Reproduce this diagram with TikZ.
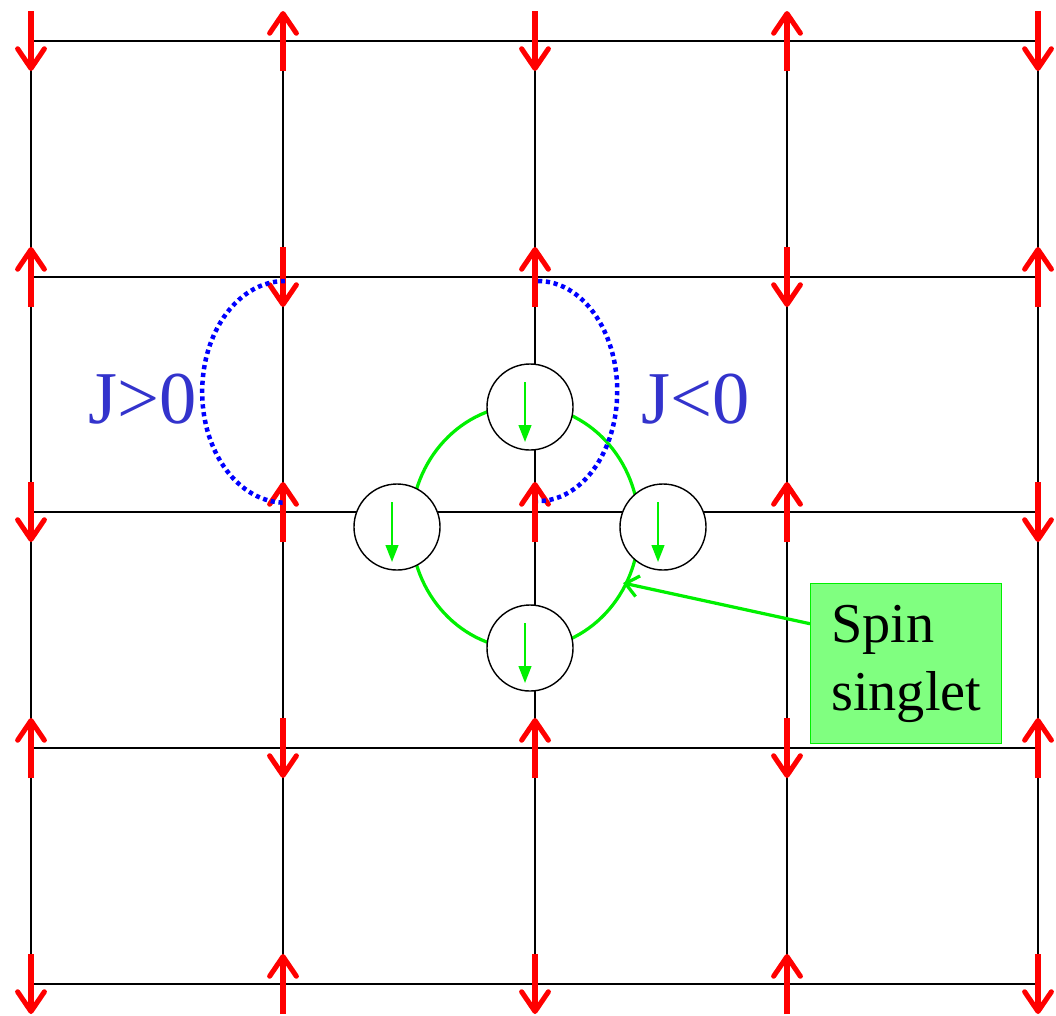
\documentclass[tikz,border=0pt]{standalone}
\usepackage{fontspec}
\setmainfont{Liberation Serif}
\usetikzlibrary{positioning, arrows.meta, calc}

\definecolor{spinred}{RGB}{255,0,0}
\definecolor{singletgreen}{RGB}{0,240,0}
\definecolor{boxfill}{RGB}{128,255,128}
\definecolor{jblue}{RGB}{51,51,204}

\begin{document}
\begin{tikzpicture}[x=0.025cm, y=-0.025cm,
    lattice/.style={line width=1.1pt},
    spin/.style={draw=spinred, line width=3.6pt, -{Straight Barb[round, length=14pt, width=19pt]}},
    site/.style={circle, draw, fill=white, line width=1pt, minimum size=2.15cm, inner sep=0pt},
    sub/.style={singletgreen, line width=1.4pt, -{Triangle[length=12pt, width=9pt]}},
    ring/.style={singletgreen, line width=2.3pt},
    jbond/.style={blue, line width=3.2pt, dash pattern=on 3pt off 2.6pt},
    jlab/.style={jblue, font=\fontsize{53}{64}\selectfont, anchor=base west, inner sep=0pt},
    singletbox/.style={draw=singletgreen, fill=boxfill, line width=1pt, minimum width=4.775cm,
      minimum height=4cm, align=left, font=\fontsize{40}{48}\selectfont, anchor=north west},
    pointer/.style={singletgreen, line width=2.3pt, -{Straight Barb[length=9pt, width=15pt]}}]
  \useasboundingbox (0,0) rectangle (1056,1015);

  % lattice sites n<col><row>
  \foreach \i/\x in {0/31,1/283,2/535,3/787,4/1038}
    \foreach \j/\y in {0/41,1/277,2/512,3/748,4/984}
      {\coordinate (n\i\j) at (\x,\y);}
  \foreach \k in {0,...,4}
    {\draw[lattice] (n\k0) -- (n\k4);
     \draw[lattice] (n0\k) -- (n4\k);}

  % singlet ring and its four sites
  \draw[ring] (525,527) ellipse [x radius=2.85cm, y radius=3.05cm];
  \node[site] (s1) at (530,407) {};
  \node[site] (s2) at (397,527) {};
  \node[site] (s3) at (663,527) {};
  \node[site] (s4) at (530,648) {};
  \foreach \s in {s1,s2,s3,s4}
    {\draw[sub] ($(\s)+(-5,-25)$) -- ($(\s)+(-5,35)$);}

  % Neel spins, the centre one flipped
  \foreach \n in {10,30,01,21,41,12,22,32,03,23,43,14,34}
    {\draw[spin] ($(n\n)+(0,30)$) -- ($(n\n)+(0,-30)$);}
  \foreach \n in {00,20,40,11,31,02,42,13,33,04,24,44}
    {\draw[spin] ($(n\n)+(0,-30)$) -- ($(n\n)+(0,30)$);}

  % exchange bonds
  \coordinate (jl) at (285,281);
  \coordinate (jr) at (538,281);
  \draw[jbond] (jl) arc[start angle=90, end angle=270, x radius=2.07cm, y radius=2.77cm];
  \draw[jbond] (jr) arc[start angle=90, end angle=-90, x radius=1.98cm, y radius=2.75cm];
  \node[jlab] (jpos) at (88,423) {J>0};
  \node[jlab] (jneg) at (641,423) {J<0};

  \node[singletbox] (box) at (810,583) {Spin\\singlet};
  \coordinate (ringpt) at (623,583);
  \draw[pointer] ([yshift=1cm]box.west) -- (ringpt);

  \node[anchor=base, inner sep=0pt, font=\fontsize{40}{48}\selectfont] (title) at (631,-13) {g};
\end{tikzpicture}
\end{document}
